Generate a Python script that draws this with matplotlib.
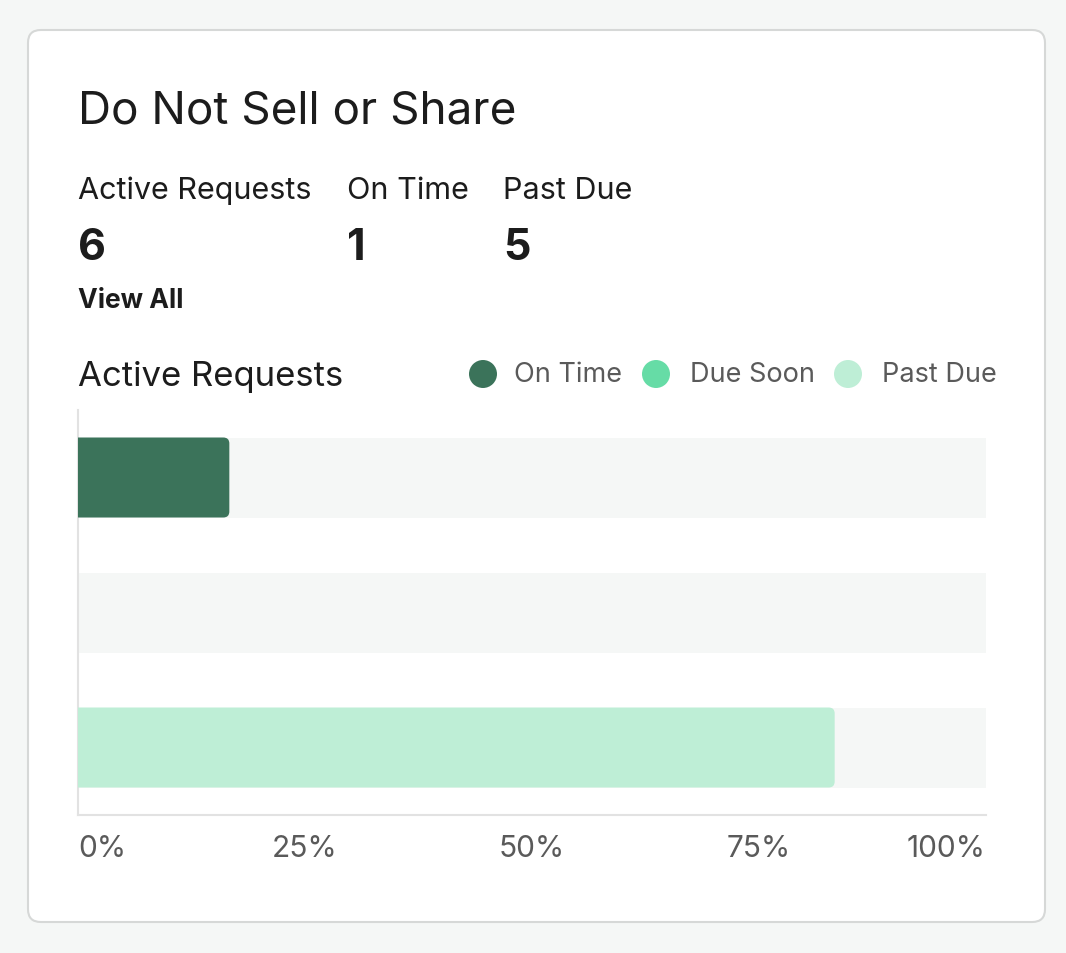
import matplotlib
matplotlib.use("Agg")
import matplotlib.pyplot as plt
from matplotlib.patches import FancyBboxPatch, Circle

plt.rcParams['font.family'] = ['Inter', 'DejaVu Sans']

W, H = 1066, 954

title = "Do Not Sell or Share"
stat_labels = ["Active Requests", "On Time", "Past Due"]
stat_values = ["6", "1", "5"]
categories = ["On Time", "Due Soon", "Past Due"]
counts = [1, 0, 5]
total = 6
shares = [c / total for c in counts]
colors = ["#3b735a", "#66dca6", "#beeed6"]
tick_vals = [0, 0.25, 0.5, 0.75, 1.0]
tick_labels = ["0%", "25%", "50%", "75%", "100%"]

track = "#f5f7f6"
dark = "#1c1c1c"
grey = "#5a5a5a"


def fx(x):
    return x / W


def fy(y):
    return 1 - y / H


fig = plt.figure(figsize=(W / 100, H / 100), dpi=100, facecolor="#f5f7f6")

# card
card = FancyBboxPatch((fx(28), fy(923)), fx(1045) - fx(28), fy(31) - fy(923),
                      boxstyle="round,pad=0,rounding_size=0.012",
                      mutation_aspect=W / H,
                      transform=fig.transFigure, facecolor="white",
                      edgecolor="#d6d8d7", lw=1.5, zorder=-1)
fig.patches.append(card)

fig.text(fx(78), fy(124), title, fontsize=33, color=dark, va="baseline")
for x, lab, val in zip([78, 347, 503], stat_labels, stat_values):
    fig.text(fx(x), fy(199), lab, fontsize=22, color=dark, va="baseline")
    fig.text(fx(x), fy(260), val, fontsize=31, color=dark, va="baseline",
             fontweight="bold")
fig.text(fx(78), fy(308), "View All", fontsize=19, color=dark,
         va="baseline", fontweight="bold")
fig.text(fx(78), fy(386), "Active Requests", fontsize=25, color=dark,
         va="baseline")

# legend
for cx, tx, lab, c in zip([483, 656, 848], [514, 690, 882], categories, colors):
    fig.patches.append(Circle((cx, H - 375), 14, transform=None,
                              facecolor=c, edgecolor="none"))
    fig.text(fx(tx), fy(375), lab, fontsize=19.5, color=grey, va="center")

# bars
ax = fig.add_axes([fx(78), fy(816), fx(986) - fx(78), fy(411) - fy(816)])
ax.set_facecolor("none")
ypos = list(range(len(categories)))
bh = 80 / 135
ax.barh(ypos, [1.0] * len(ypos), height=bh, color=track, zorder=1)
bars = ax.barh(ypos, shares, height=bh, color="none", zorder=2)
xpx = 908
ypx = 135
for b, c in zip(bars, colors):
    if b.get_width() <= 0:
        continue
    r = 6 / xpx
    p = FancyBboxPatch((b.get_x() - 0.05, b.get_y()), b.get_width() + 0.05,
                       b.get_height(),
                       boxstyle=f"round,pad=0,rounding_size={r}",
                       mutation_aspect=xpx / ypx,
                       facecolor=c, edgecolor="none", zorder=3)
    ax.add_patch(p)

ax.set_xlim(0, 1)
ax.set_ylim(len(categories) - 0.5, -0.5)
ax.set_yticks([])
for s in ["top", "right"]:
    ax.spines[s].set_visible(False)
for s in ["left", "bottom"]:
    ax.spines[s].set_color("#e2e2e2")
    ax.spines[s].set_linewidth(1.5)
ax.set_xticks(tick_vals)
ax.set_xticklabels(tick_labels, fontsize=21.5, color=grey)
ax.tick_params(axis="x", length=0, pad=14)
labs = ax.get_xticklabels()
labs[0].set_ha("left")
labs[-1].set_ha("right")

fig.savefig("out.png", dpi=100, facecolor=fig.get_facecolor())
